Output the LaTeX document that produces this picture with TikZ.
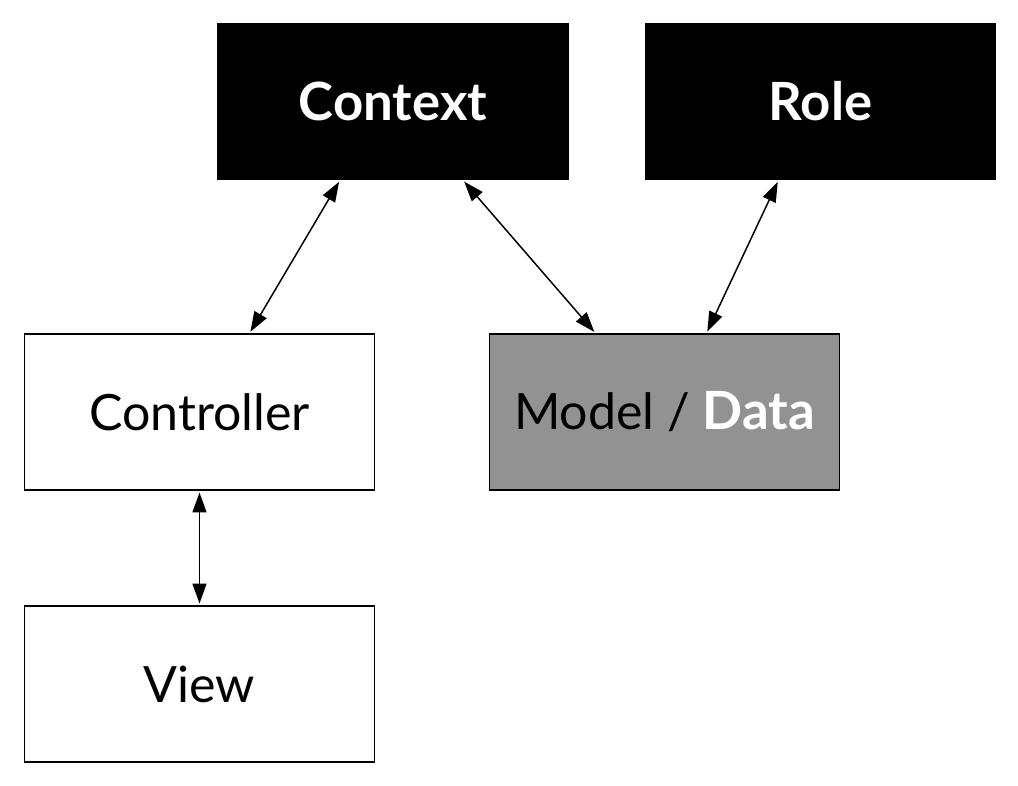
\documentclass[tikz,border=0pt]{standalone}
\usepackage{fontspec}
\setmainfont{Lato}
\usetikzlibrary{arrows.meta,calc}
\definecolor{datagray}{HTML}{929292}
\tikzset{box/.style={draw,line width=0.85pt,minimum width=7cm,minimum height=3.12cm,inner sep=0pt,font=\fontsize{28.5}{32}\selectfont}}
\tikzset{darkbox/.style={box,fill=black,text=white,font=\fontsize{30}{34}\selectfont\bfseries}}
\tikzset{link/.style={{Triangle[length=0.4cm,width=0.28cm]}-{Triangle[length=0.4cm,width=0.28cm]},line width=0.85pt,shorten <=1pt,shorten >=1pt}}

\begin{document}
\begin{tikzpicture}[x=0.02cm,y=-0.02cm]
  \useasboundingbox (0,0) rectangle (1018,785);
  \node[darkbox] (ctx) at (393,101.5) {Context};
  \node[darkbox] (role) at (820.5,101.5) {Role};
  \node[box] (ctrl) at (199.5,412) {Controller};
  \node[box,fill=datagray] (model) at (664.5,412) {Model / \textcolor{white}{\fontsize{30}{34}\selectfont\bfseries Data}};
  \node[box] (view) at (199.5,684) {View};
  \draw[link] ($(ctx.south)+(-53,0)$) -- ($(ctrl.north)+(50,0)$);
  \draw[link] ($(ctx.south)+(70,0)$) -- ($(model.north)+(-69,0)$);
  \draw[link] ($(role.south)+(-42,0)$) -- ($(model.north)+(42,0)$);
  \draw[link] (ctrl.south) -- (view.north);
\end{tikzpicture}
\end{document}
